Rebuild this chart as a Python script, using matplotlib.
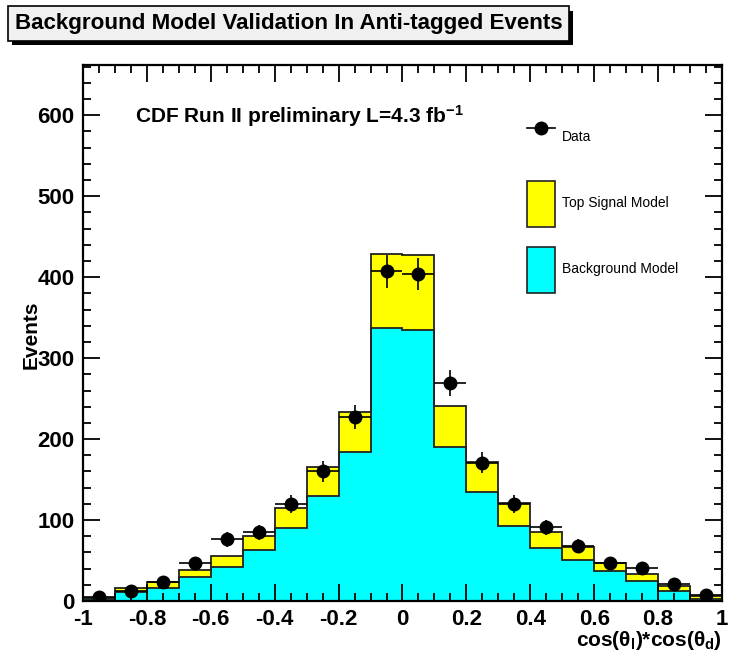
import numpy as np
import matplotlib
matplotlib.use("Agg")
import matplotlib.pyplot as plt
import matplotlib.patheffects as pe
from matplotlib.patches import Rectangle
from matplotlib.lines import Line2D

plt.rcParams['font.family'] = ['Liberation Sans', 'DejaVu Sans']
plt.rcParams['mathtext.fontset'] = 'custom'
plt.rcParams['mathtext.rm'] = 'Liberation Sans'
plt.rcParams['mathtext.bf'] = 'Liberation Sans:bold'
plt.rcParams['mathtext.it'] = 'Liberation Sans:italic'

# binning: 20 bins from -1 to 1
edges = np.linspace(-1, 1, 21)
background = [3, 11.6, 16.5, 29.6, 41.6, 62.6, 90, 130, 184, 337.6,
              334.8, 190, 134.6, 93, 65, 51, 36.5, 25, 12.7, 3]
signal = [1, 4.9, 7, 8.4, 13.4, 17.4, 25, 35, 49, 91.4,
          92.2, 51, 36.9, 28, 20.5, 16, 10.5, 8.6, 5.7, 3]
data = [5, 12, 23.5, 46.5, 76, 85, 120, 160, 227, 407,
        404, 269, 171, 120, 91, 68, 47, 41, 20.5, 7.7]

bg = np.array(background)
tot = bg + np.array(signal)
d = np.array(data)
centers = 0.5 * (edges[1:] + edges[:-1])

fig = plt.figure(figsize=(7.31, 6.56), dpi=100)
ax = fig.add_axes([0.1135, 0.0838, 0.8742, 0.8171])

ax.stairs(tot, edges, fill=True, color='#ffff00')
ax.stairs(bg, edges, fill=True, color='#00ffff')
ax.stairs(tot, edges, color='#222222', linewidth=1.3)
ax.stairs(bg, edges, color='#222222', linewidth=1.3)

ax.errorbar(centers, d, xerr=0.05, yerr=np.sqrt(d), fmt='o', color='black',
            markersize=9, elinewidth=1.2, capsize=0)

ax.set_xlim(-1, 1)
ax.set_ylim(0, 662)
ax.set_xticks(np.arange(-1, 1.01, 0.2))
ax.set_xticks(np.arange(-1, 1.01, 0.05), minor=True)
ax.set_yticks(np.arange(0, 601, 100))
ax.set_yticks(np.arange(0, 661, 20), minor=True)
ax.set_xticklabels(['-1', '-0.8', '-0.6', '-0.4', '-0.2', '0', '0.2', '0.4', '0.6', '0.8', '1'])
ax.tick_params(which='both', direction='in', top=True, right=True, width=1.3)
ax.tick_params(which='major', length=12, labelsize=16, pad=6)
ax.tick_params(which='minor', length=6)
for lab in ax.get_xticklabels() + ax.get_yticklabels():
    lab.set_fontweight('bold')
for s in ax.spines.values():
    s.set_linewidth(1.6)

ax.set_ylabel('Events', fontsize=15, fontweight='bold', labelpad=4)
ax.yaxis.set_label_coords(-0.066, 0.496)
ax.set_xlabel(r'cos(θ$_\mathbf{l}$)*cos(θ$_\mathbf{d}$)', fontsize=15, fontweight='bold')
ax.xaxis.set_label_coords(1.0, -0.052)
ax.xaxis.label.set_horizontalalignment('right')

ax.text(0.082, 0.905, r'CDF Run II preliminary L=4.3 fb$^{\mathbf{-1}}$', transform=ax.transAxes,
        fontsize=15, fontweight='bold', va='center')

handles = [
    Line2D([], [], color='black', marker='o', markersize=9, linewidth=1.2),
    Rectangle((0, 0), 1, 1, facecolor='#ffff00', edgecolor='#222222', linewidth=1.2),
    Rectangle((0, 0), 1, 1, facecolor='#00ffff', edgecolor='#222222', linewidth=1.2),
]
leg = ax.legend(handles, ['Data', 'Top Signal Model', 'Background Model'],
                loc='upper left', bbox_to_anchor=(0.675, 0.93), frameon=False,
                fontsize=10, handlelength=2.0, handleheight=4.7, labelspacing=1.44,
                handletextpad=0.5)

t = fig.text(0.0205, 0.964, 'Background Model Validation In Anti-tagged Events',
             fontsize=16.1, fontweight='bold', va='center', ha='left',
             bbox=dict(boxstyle='square,pad=0.3', facecolor='#f0f0f0', edgecolor='black', linewidth=1.2))
t.get_bbox_patch().set_path_effects([
    pe.SimplePatchShadow(offset=(3, -3), shadow_rgbFace='black', alpha=1.0), pe.Normal()])

fig.savefig('out.png', dpi=100)
